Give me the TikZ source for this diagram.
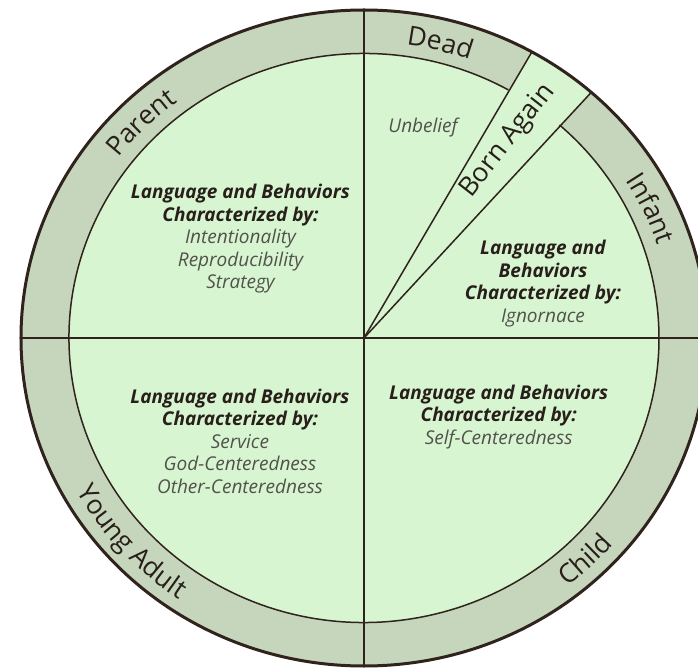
\documentclass[tikz,border=0pt]{standalone}
\usepackage{fontspec}
\setmainfont{Open Sans}
\usetikzlibrary{decorations.text}
\definecolor{ringcol}{RGB}{198,214,188}
\definecolor{innercol}{RGB}{215,245,209}
\definecolor{linecol}{RGB}{48,34,28}
\definecolor{textcol}{RGB}{40,30,26}
\definecolor{itemcol}{RGB}{82,82,76}
\newcommand{\ringfont}{\fontsize{26.5pt}{26.5pt}\selectfont}
\newcommand{\hd}[1]{{\bfseries\itshape\color{textcol}#1}}
\newcommand{\itm}[1]{{\itshape\color{itemcol}#1}}
\tikzset{
  thinline/.style={draw=linecol, line width=1.5pt},
  outerline/.style={draw=linecol, line width=3pt},
  block/.style={align=center, inner sep=0pt, font=\fontsize{19pt}{22.5pt}\selectfont},
  toplabel/.style={decorate, decoration={text along path, text align=center, text color=textcol, text={|\ringfont|#1}}},
}
\begin{document}
\begin{tikzpicture}
\useasboundingbox (-364pt,-333pt) rectangle (334pt,338pt);
\clip (-364pt,-333pt) rectangle (334pt,338pt);
\coordinate (O) at (0pt,0pt);
\fill[ringcol] (O) ellipse[x radius=343pt, y radius=328pt];
\fill[innercol] (O) ellipse[x radius=295pt, y radius=284.5pt];
\fill[innercol] (O) -- (48.5:343pt and 328pt) arc[start angle=48.5, end angle=60.7, x radius=343pt, y radius=328pt] -- cycle;
\draw[thinline] (60.7:295pt and 284.5pt) arc[start angle=60.7, end angle=408.5, x radius=295pt, y radius=284.5pt];
\coordinate (N) at (90:343pt and 328pt);
\coordinate (S) at (270:343pt and 328pt);
\coordinate (W) at (180:343pt and 328pt);
\coordinate (E) at (0:343pt and 328pt);
\coordinate (B1) at (60.7:343pt and 328pt);
\coordinate (B2) at (48.5:343pt and 328pt);
\draw[thinline] (W) -- (E);
\draw[thinline] (N) -- (S);
\draw[thinline] (O) -- (B1);
\draw[thinline] (O) -- (B2);
\draw[outerline] (O) ellipse[x radius=343pt, y radius=328pt];
% ring labels (clockwise, tops outward)
\path[toplabel=Dead] (96:309pt and 296pt) arc[start angle=96, end angle=56, x radius=309pt, y radius=296pt];
\path[toplabel=Parent] (160:309pt and 296pt) arc[start angle=160, end angle=110, x radius=309pt, y radius=296pt];
\path[toplabel=Infant] (50:309pt and 296pt) arc[start angle=50, end angle=0, x radius=309pt, y radius=296pt];
% ring labels (counter-clockwise, tops inward)
\path[toplabel=Child] (-76:329pt and 316pt) arc[start angle=-76, end angle=-16, x radius=329pt, y radius=316pt];
\path[toplabel={Young Adult}] (-178:329pt and 316pt) arc[start angle=-178, end angle=-98, x radius=329pt, y radius=316pt];
% Born Again
\node[rotate=52, text=textcol, font=\ringfont, inner sep=0pt] (born) at (144pt,197pt) {Born Again};
% blocks
\node[block] (unbelief) at (59pt,210pt) {\itm{Unbelief}};
\node[block] (parentTxt) at (-123.5pt,99pt) {\hd{Language and Behaviors}\\ \hd{Characterized by:}\\ \itm{Intentionality}\\ \itm{Reproducibility}\\ \itm{Strategy}};
\node[block] (infantTxt) at (179pt,54.5pt) {\hd{Language and}\\ \hd{Behaviors}\\ \hd{Characterized by:}\\ \itm{Ignornace}};
\node[block] (adultTxt) at (-124pt,-103pt) {\hd{Language and Behaviors}\\ \hd{Characterized by:}\\ \itm{Service}\\ \itm{God-Centeredness}\\ \itm{Other-Centeredness}};
\node[block] (childTxt) at (134.7pt,-78.6pt) {\hd{Language and Behaviors}\\ \hd{Characterized by:}\\ \itm{Self-Centeredness}};
\end{tikzpicture}
\end{document}
